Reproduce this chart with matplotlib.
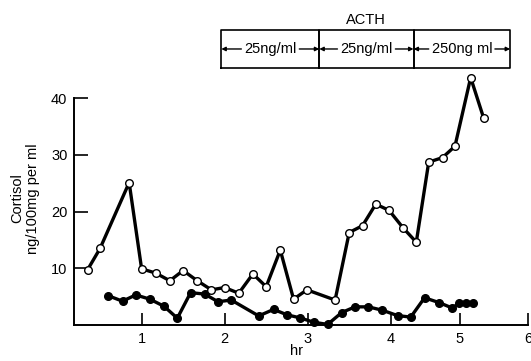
import numpy as np
import matplotlib
matplotlib.use("Agg")
import matplotlib.pyplot as plt
import matplotlib.transforms as mtransforms

plt.rcParams['font.family'] = ['Liberation Sans', 'DejaVu Sans']

# open circles (upper trace)
open_hr = [0.35, 0.50, 0.85, 1.00, 1.17, 1.34, 1.50, 1.67, 1.84, 2.00, 2.17, 2.34, 2.50,
           2.67, 2.83, 2.99, 3.33, 3.50, 3.66, 3.82, 3.98, 4.18, 4.37, 4.55, 4.75, 4.93,
           5.16, 5.35]
open_val = [9.75, 13.5, 25.1, 9.9, 9.15, 7.8, 9.6, 7.8, 6.2, 6.6, 5.6, 9.0, 6.75,
            13.2, 4.55, 6.2, 4.4, 16.3, 17.5, 21.3, 20.2, 17.1, 14.6, 28.7, 29.5, 31.5,
            43.6, 36.5]

# filled circles (lower trace)
filled_hr = [0.60, 0.77, 0.93, 1.10, 1.27, 1.43, 1.59, 1.76, 1.92, 2.08, 2.41, 2.59,
             2.75, 2.91, 3.07, 3.24, 3.41, 3.57, 3.73, 3.90, 4.10, 4.29, 4.49, 4.70,
             4.89, 4.99, 5.09, 5.20]
filled_val = [5.15, 4.2, 5.3, 4.55, 3.3, 1.2, 5.7, 5.45, 4.1, 4.4, 1.6, 2.75,
              1.8, 1.25, 0.5, 0.1, 2.2, 3.2, 3.2, 2.6, 1.65, 1.4, 4.8, 3.95,
              3.0, 3.8, 3.8, 3.8]

# ACTH infusion periods (hr) and labels
acth_edges = [1.96, 3.14, 4.33, 5.74]
acth_labels = ['25ng/ml', '25ng/ml', '250ng ml']

# the hand-drawn time axis is not evenly spaced: hour marks vs drawn position
hr_marks = [0, 1, 2, 3, 4, 5, 6]
drawn_at = [59, 142, 225, 308, 391, 460, 528]


def fwd(x):
    return np.interp(x, hr_marks, drawn_at)


def inv(x):
    return np.interp(x, drawn_at, hr_marks)


fig = plt.figure(figsize=(5.31, 3.61), dpi=100)
ax = fig.add_axes([0.140, 0.0997, 0.854, 0.6288])
ax.set_xscale('function', functions=(fwd, inv))

ax.plot(filled_hr, filled_val, '-o', color='black', lw=2.4, ms=5.5,
        mfc='black', mec='black', zorder=3, clip_on=False)
ax.plot(open_hr, open_val, '-o', color='black', lw=2.4, ms=5.5,
        mfc='white', mec='black', mew=1.0, zorder=4, clip_on=False)

ax.set_xlim(0.19, 6.01)
ax.set_ylim(0, 40)
ax.set_xticks([1, 2, 3, 4, 5, 6])
ax.set_xticklabels(['1', '2', '3', '4', '5', '6'])
ax.set_yticks([10, 20, 30, 40])
ax.set_yticklabels(['10', '20', '30', '40'])
ax.tick_params(axis='x', direction='in', length=9, width=1.2, pad=5, labelsize=10.5)
ax.tick_params(axis='y', direction='in', length=10, width=1.2, pad=5, labelsize=10.5)
for s in ['top', 'right']:
    ax.spines[s].set_visible(False)
for s in ['left', 'bottom']:
    ax.spines[s].set_linewidth(1.4)

ax.set_xlabel('hr', fontsize=10.5)
ax.xaxis.set_label_coords(0.49, -0.082)
fig.text(0.047, 0.45, 'Cortisol\nng/100mg per ml', rotation=90,
         ha='center', va='center', fontsize=10.5, linespacing=1.2)

# ACTH box above the plot
trans = mtransforms.blended_transform_factory(ax.transData, ax.transAxes)
y0, y1 = 1.132, 1.300
ymid = (y0 + y1) / 2
for a, b in zip(acth_edges[:-1], acth_edges[1:]):
    ax.plot([a, b, b, a, a], [y0, y0, y1, y1, y0], color='black', lw=1.2,
            transform=trans, clip_on=False)
for (a, b), lab in zip(zip(acth_edges[:-1], acth_edges[1:]), acth_labels):
    c = inv((fwd(a) + fwd(b)) / 2)
    ax.annotate(lab, xy=(a, ymid), xytext=(c, ymid), xycoords=trans,
                textcoords=trans, ha='center', va='center', fontsize=10.5,
                arrowprops=dict(arrowstyle='-|>', lw=1.0, color='black',
                                mutation_scale=6, shrinkA=0, shrinkB=0))
    ax.annotate(lab, xy=(b, ymid), xytext=(c, ymid), xycoords=trans,
                textcoords=trans, ha='center', va='center', fontsize=10.5,
                color='none',
                arrowprops=dict(arrowstyle='-|>', lw=1.0, color='black',
                                mutation_scale=6, shrinkA=0, shrinkB=0))
acth_mid = inv((fwd(acth_edges[0]) + fwd(acth_edges[-1])) / 2)
ax.text(acth_mid, 1.345, 'ACTH', transform=trans, ha='center', va='center',
        fontsize=10.5)

fig.savefig('out.png', dpi=100)
